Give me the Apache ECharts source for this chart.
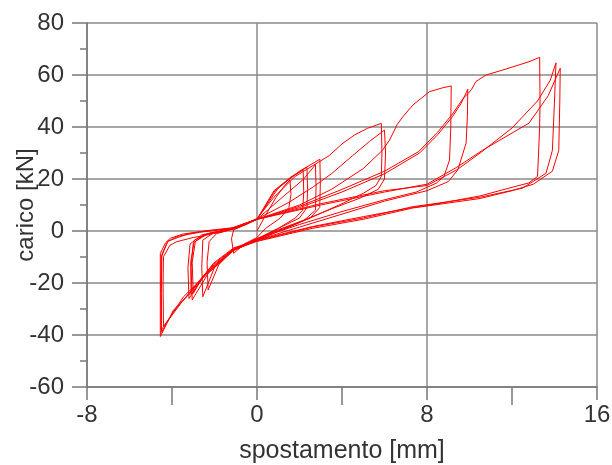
<!DOCTYPE html>
<html>
<head>
<meta charset="utf-8">
<script src="https://cdn.jsdelivr.net/npm/echarts@6/dist/echarts.min.js"></script>
<style>
html, body { margin: 0; padding: 0; background: #fff; }
#box { width: 612px; height: 465px; }
</style>
</head>
<body>
<div id="box"></div>
<script>
// cicli: [spostamento mm, carico kN]
var ciclo1 = [[0, 0], [0.4, 6], [0.9, 13], [1.3, 17.5], [1.55, 19.6], [1.6, 14], [1.5, 9], [1.1, 5], [0.4, 1], [0, -2.5], [-0.6, -5], [-1.1, -8.6], [-1.2, -3], [-1.1, 0.5], [-0.5, 2.5], [0, 4.5]];
var ciclo2 = [[0.8, 15], [1.5, 20], [2.17, 23.5], [2.2, 15], [2.15, 8], [1.8, 5], [1.0, 1], [0, -3], [-1.1, -7], [-1.8, -13], [-2.3, -22.7], [-2.35, -12], [-2.25, -4], [-1.9, -1], [-1.0, 1], [0, 4.5]];
var ciclo3 = [[0.8, 15.5], [1.6, 20.8], [2.35, 24.5], [2.38, 16], [2.35, 9], [2.0, 5], [1.0, 1], [0, -3.2], [-1.1, -7], [-2.0, -14], [-2.55, -25.3], [-2.6, -14], [-2.55, -3.5], [-2.1, -1], [-1.0, 1], [0, 4.5]];
var ciclo4 = [[1.0, 16.5], [2.0, 23], [2.96, 27.6], [2.98, 18], [2.95, 9], [2.5, 5], [1.5, 1.5], [0, -3.3], [-1.1, -7], [-2.2, -15], [-3.05, -26.5], [-3.1, -14], [-3.0, -4.7], [-2.5, -1.5], [-1.2, 0.8], [0, 4.5]];
var ciclo5 = [[1.2, 13], [2.2, 20], [2.75, 25.5], [2.78, 17], [2.75, 8], [2.2, 4], [1.2, 0.5], [0, -3.5], [-1.1, -7.5], [-2.5, -17], [-3.1, -24.5], [-3.12, -12], [-2.95, -3.5], [-2.3, -1], [-1.0, 1], [0, 4.8]];
var ciclo6 = [[0.8, 13], [1.8, 21], [2.9, 26.5], [3.4, 29], [4.0, 33.5], [4.6, 37], [5.2, 39.5], [5.85, 41.4], [5.88, 30], [5.85, 21], [5.6, 17.5], [5.0, 14.5], [4.0, 10.5], [2.5, 5], [1.0, 0.5], [0, -3], [-1.1, -7], [-2.3, -15], [-3.2, -26], [-3.25, -14], [-3.15, -5], [-2.6, -1.5], [-1.3, 0.8], [0, 4.6]];
var ciclo7 = [[1.5, 11], [2.65, 17], [3.5, 22], [4.5, 29], [5.3, 34.5], [6.0, 38.8], [6.05, 30], [6.0, 20], [5.7, 16], [4.8, 12.5], [3.5, 8.5], [2.0, 3.5], [0, -3], [-1.1, -7], [-2.5, -17], [-3.0, -24], [-3.05, -12], [-2.9, -4], [-2.3, -1], [-1, 1], [0, 4.5]];
var ciclo8 = [[2, 10], [3.5, 16], [5, 24], [5.9, 31], [6.24, 35], [6.6, 41], [6.87, 44], [7.34, 48.5], [8.12, 53.6], [8.7, 55], [9.14, 55.8], [9.12, 40], [9.06, 27.3], [8.8, 21], [8.44, 18.4], [7.5, 15], [6, 12], [4, 7.5], [2, 2.5], [0, -3], [-1.1, -7], [-2.6, -18], [-3.6, -28], [-4.4, -36.8], [-4.42, -20], [-4.4, -9.9], [-4.1, -5.5], [-3.77, -4.1], [-3, -2.5], [-2.5, -1.8], [-1.5, 0], [0, 4.5]];
var ciclo9 = [[2, 9], [4, 15], [6, 22], [7.65, 30], [8.5, 37], [9.2, 44], [9.6, 49], [9.92, 54.5], [9.9, 44], [9.84, 33.8], [9.45, 23.5], [9, 19], [8, 15.5], [6, 11.5], [4, 6.5], [2, 1.5], [0, -3.5], [-1.1, -7.5], [-2.8, -20], [-3.46, -25.3], [-4.0, -32], [-4.5, -38], [-4.52, -20], [-4.5, -10], [-4.2, -4], [-3.7, -2], [-2.7, -0.5], [-1.1, 1.1], [0, 4.5]];
var ciclo10 = [[2, 9.5], [4, 16], [6, 23], [7.6, 30.5], [8.5, 38], [9.2, 45], [9.7, 51], [9.95, 53], [10.1, 54.5], [10.3, 57.5], [10.78, 60], [11.56, 61.9], [12.8, 65.1], [13.3, 66.8], [13.32, 50], [13.3, 40], [13.25, 30], [13.2, 21], [12.8, 18.5], [12, 16.8], [10.5, 13.5], [8.5, 10.5], [7.3, 9], [5, 5.5], [2.6, 1.7], [0, -3.5], [-1.1, -6.5], [-2.05, -12.4], [-3.15, -24], [-3.93, -30.4], [-4.55, -40.6], [-4.55, -25], [-4.55, -8.6], [-4.3, -4.5], [-4.08, -2.8], [-3.5, -1.2], [-2.68, -0.3], [-1.1, 1.1], [0, 4.5]];
var ciclo11 = [[3, 10.5], [6, 15.5], [8, 17.5], [9.4, 23.5], [10.5, 30], [12, 39.6], [13.2, 50], [13.8, 58], [14.07, 64.7], [14.0, 50], [13.9, 31], [13.6, 22.2], [12.5, 16.5], [10.5, 13], [7.3, 9.3], [5, 5], [2.6, 1.5], [0, -3.8], [-1.1, -6.8], [-2.05, -12.8], [-3.1, -23], [-3.93, -31], [-4.5, -39], [-4.5, -24], [-4.48, -9], [-4.2, -4], [-3.9, -3], [-3.2, -1], [-2.5, 0], [-1.1, 1.3], [0, 4.5]];
var ciclo12 = [[3, 10], [6, 15], [8, 18], [9.4, 24.5], [10.6, 31], [12.8, 41.5], [13.7, 52], [14.27, 62.6], [14.25, 50], [14.2, 31], [13.9, 23], [13, 18], [12, 15.5], [10.5, 12.5], [7.3, 8.8], [5, 4.5], [2.6, 1], [0, -4], [-1.2, -7.5]];

var cicli = [ciclo1, ciclo2, ciclo3, ciclo4, ciclo5, ciclo6, ciclo7, ciclo8, ciclo9, ciclo10, ciclo11, ciclo12];
var dati = [];
cicli.forEach(function (c) { dati = dati.concat(c); });

var mychart = echarts.init(document.getElementById("box"));
var grigio = '#8a8a8a';
var font = 'Liberation Sans, Arial, sans-serif';

var opzioni = {
    animation: false,
    grid: {
        left: 87,
        right: 15,
        top: 23,
        bottom: 78,
        outerBoundsMode: 'none'
    },
    xAxis: {
        type: 'value',
        min: -8,
        max: 16,
        interval: 8,
        name: 'spostamento [mm]',
        nameLocation: 'middle',
        nameGap: 52,
        nameMoveOverlap: false,
        nameTextStyle: {
            fontSize: 25,
            color: '#333',
            fontFamily: font
        },
        axisLine: {
            onZero: false,
            lineStyle: { color: '#777', width: 1.5 }
        },
        axisTick: {
            length: 13,
            lineStyle: { color: '#777', width: 1.5 }
        },
        minorTick: {
            show: true,
            splitNumber: 2,
            length: 18,
            lineStyle: { color: '#777', width: 1.5 }
        },
        splitLine: {
            show: true,
            lineStyle: { color: grigio, width: 1.5 }
        },
        axisLabel: {
            fontSize: 24,
            color: '#333',
            fontFamily: font,
            margin: 16
        }
    },
    yAxis: {
        type: 'value',
        min: -60,
        max: 80,
        interval: 20,
        name: 'carico [kN]',
        nameLocation: 'middle',
        nameGap: 49,
        nameMoveOverlap: false,
        nameTextStyle: {
            fontSize: 24,
            color: '#333',
            fontFamily: font
        },
        axisLine: {
            onZero: false,
            lineStyle: { color: '#777', width: 1.5 }
        },
        axisTick: {
            length: 15,
            lineStyle: { color: '#777', width: 1.5 }
        },
        minorTick: {
            show: true,
            splitNumber: 2,
            length: 7,
            lineStyle: { color: '#777', width: 1.5 }
        },
        splitLine: {
            show: true,
            lineStyle: { color: grigio, width: 1.5 }
        },
        axisLabel: {
            fontSize: 24,
            color: '#333',
            fontFamily: font,
            margin: 23
        }
    },
    series: [{
        type: 'line',
        showSymbol: false,
        symbol: 'none',
        smooth: false,
        lineStyle: {
            color: '#ff0000',
            width: 1
        },
        data: dati
    }]
};

mychart.setOption(opzioni);
</script>
</body>
</html>
